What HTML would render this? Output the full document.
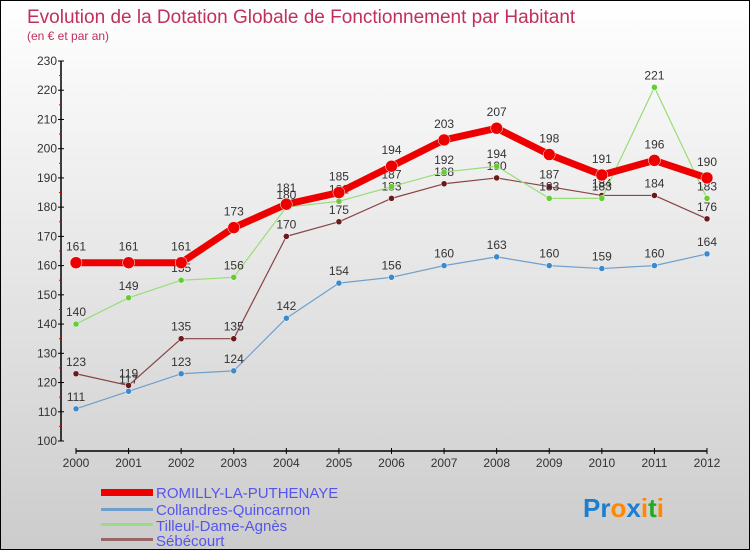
<!DOCTYPE html>
<html><head><meta charset="utf-8"><style>
body{margin:0}
#c{width:748px;height:548px;border:1px solid #000;background:linear-gradient(#fff,#ccc);position:relative;overflow:hidden;font-family:"Liberation Sans",sans-serif}
</style></head><body>
<div id="c">
<svg width="748" height="548" style="position:absolute;left:0;top:0" id="svg">
<text x="26" y="22" font-size="19" fill="#c0305a">Evolution de la Dotation Globale de Fonctionnement par Habitant</text>
<text x="26" y="39" font-size="12" fill="#c0305a">(en € et par an)</text>
<g id="axes"></g><g id="series"></g>
<g>
<rect x="100" y="488" width="52" height="7" fill="#e00"/>
<text x="155" y="497" font-size="15" fill="#55e">ROMILLY-LA-PUTHENAYE</text>
<rect x="100" y="507" width="52" height="3" fill="#6fa0cc"/>
<text x="155" y="514" font-size="15" fill="#55e">Collandres-Quincarnon</text>
<rect x="100" y="522" width="52" height="3" fill="#9d8"/>
<text x="155" y="530" font-size="15" fill="#55e">Tilleul-Dame-Agnès</text>
<rect x="100" y="537" width="52" height="3" fill="#966"/>
<text x="155" y="545" font-size="15" fill="#55e">Sébécourt</text>
</g>
<text x="582" y="516" font-size="26" font-weight="bold"><tspan fill="#1a7fd0">Pr</tspan><tspan fill="#f80">o</tspan><tspan fill="#1a7fd0">x</tspan><tspan fill="#f80">i</tspan><tspan fill="#2a2">t</tspan><tspan fill="#f80">i</tspan></text>
</svg>
</div>
<script>
const years=["2000","2001","2002","2003","2004","2005","2006","2007","2008","2009","2010","2011","2012"];
const yTicks=[100,110,120,130,140,150,160,170,180,190,200,210,220,230];
const romilly=[161,161,161,173,181,185,194,203,207,198,191,196,190];
const collandres=[111,117,123,124,142,154,156,160,163,160,159,160,164];
const tilleul=[140,149,155,156,180,182,187,192,194,183,183,221,183];
const sebecourt=[123,119,135,135,170,175,183,188,190,187,184,184,176];
const NS="http://www.w3.org/2000/svg";
function X(i){return 75+i*(706-75)/(years.length-1);}
function Y(v){return 440-(v-100)*(380/130);}
function mk(t,a,p){const e=document.createElementNS(NS,t);for(const k in a)e.setAttribute(k,a[k]);p.appendChild(e);return e;}
const ax=document.getElementById('axes');
let l=mk('line',{x1:60,y1:Y(230),x2:60,y2:Y(100),stroke:'#000','stroke-width':1.5},ax);


yTicks.forEach((v,i)=>{
  const t=mk('line',{x1:57,y1:Y(v),x2:63,y2:Y(v),stroke:'#000'},ax);
  
  
  if(i<yTicks.length-1){const m=mk('line',{x1:58,y1:Y(v+5),x2:60,y2:Y(v+5),stroke:'#e00'},ax);
  
  }
  const tx=mk('text',{x:56,y:Y(v)+4,'font-size':12,fill:'#333','text-anchor':'end'},ax);tx.textContent=v;
  
  
});
l=mk('line',{x1:X(0),y1:450,x2:X(12),y2:450,stroke:'#000','stroke-width':1.5},ax);


years.forEach((y,i)=>{
  const t=mk('line',{x1:X(i),y1:447,x2:X(i),y2:453,stroke:'#000'},ax);
  
  
  const tx=mk('text',{x:X(i),y:466,'font-size':12,fill:'#333','text-anchor':'middle'},ax);tx.textContent=y;
  
  
});
const sg=document.getElementById('series');
function draw(data,color,w,r,name,dot){
  const g=mk('g',{},sg);
  
  
  const pl=mk('polyline',{points:data.map((v,i)=>X(i)+','+Y(v)).join(' '),fill:'none',stroke:color,'stroke-width':w,'stroke-linejoin':'round'},g);
  
  
  data.forEach((v,i)=>{
    const c=mk('circle',{cx:X(i),cy:Y(v),r:r,fill:dot,stroke:'#fff','stroke-width':0.5},g);
    
    
    const t=mk('text',{x:X(i),y:Y(v)-8-(r>4?4:0),'font-size':12,fill:'#333','text-anchor':'middle'},g);t.textContent=v;
    
    
  });
}
draw(collandres,'#6fa0cc',1.2,3,'collandres','#3a8ad0');
draw(sebecourt,'#844',1.2,3,'sebecourt','#6a1a1a');
draw(tilleul,'#9d7',1.2,3,'tilleul','#6c3');
draw(romilly,'#e00',7,6,'romilly','#e00');
</script>
</body></html>
